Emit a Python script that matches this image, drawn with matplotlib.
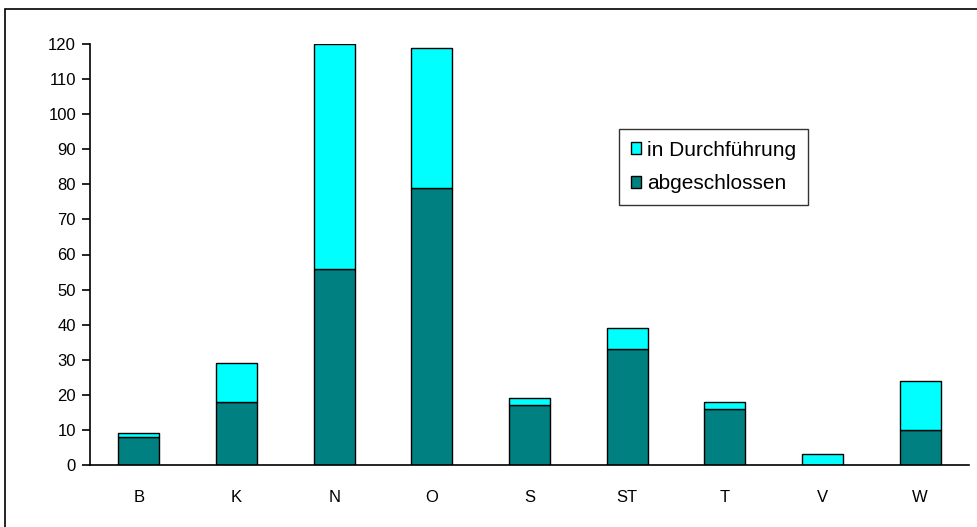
import numpy as np
import matplotlib.pyplot as plt
from matplotlib.patches import Rectangle

plt.rcParams['font.family'] = ['Liberation Sans', 'DejaVu Sans']

categories = ["B", "K", "N", "O", "S", "ST", "T", "V", "W"]
abgeschlossen = [8, 18, 56, 79, 17, 33, 16, 0, 10]
in_durchfuehrung = [1, 11, 64, 40, 2, 6, 2, 3, 14]

fig = plt.figure(figsize=(9.77, 5.27), dpi=100)
ax = fig.add_axes([90/977, 1 - 465/527, 879/977, 421/527])

x = np.arange(len(categories))
w = 0.42
ax.bar(x, abgeschlossen, w, color="#008080", edgecolor="black", linewidth=1,
       label="abgeschlossen")
ax.bar(x, in_durchfuehrung, w, bottom=abgeschlossen, color="#00FFFF",
       edgecolor="black", linewidth=1, label="in Durchführung")

ax.set_xlim(-0.5, 8.5)
ax.set_ylim(0, 120)
ax.set_yticks(np.arange(0, 121, 10))
ax.set_xticks(x)
ax.set_xticklabels(categories)
for s in ["top", "right"]:
    ax.spines[s].set_visible(False)
ax.spines["left"].set_linewidth(1.2)
ax.spines["bottom"].set_linewidth(1.2)
ax.tick_params(axis="y", direction="out", length=6, width=1.2, labelsize=12, pad=4)
ax.tick_params(axis="x", length=0, labelsize=12, pad=18)

h, l = ax.get_legend_handles_labels()
leg = ax.legend(h[::-1], l[::-1], loc="upper left", bbox_to_anchor=(0.602, 0.798),
                fontsize=15, frameon=True, fancybox=False, edgecolor="black",
                handlelength=0.5, handleheight=0.5, handletextpad=0.3,
                labelspacing=0.7, borderpad=0.55, borderaxespad=0)
leg.get_frame().set_linewidth(1)

fig.patches.append(Rectangle((5/977, -0.05), 1.1, 1.05 - 9/527,
                             transform=fig.transFigure, fill=False,
                             edgecolor="black", linewidth=1.2))

fig.savefig("out.png", dpi=100)
